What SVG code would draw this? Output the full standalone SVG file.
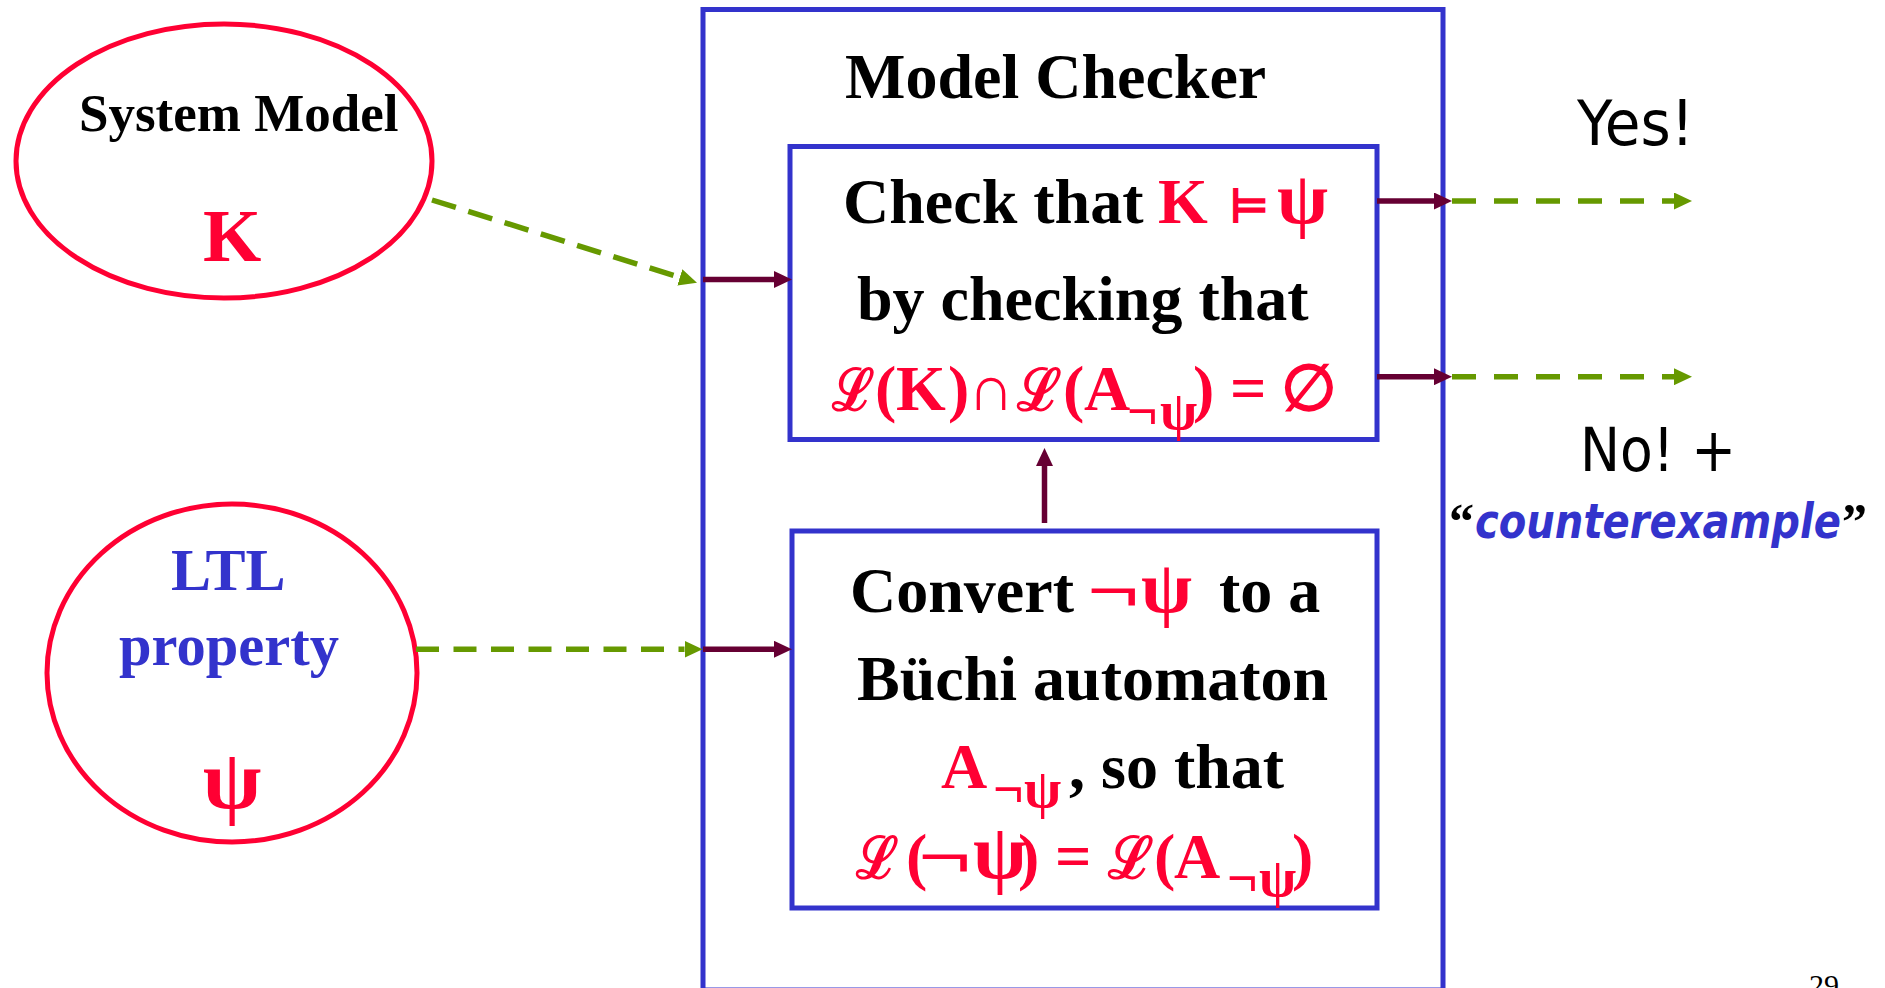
<svg xmlns="http://www.w3.org/2000/svg" width="1885" height="988" viewBox="0 0 1885 988">
<style>
.serif{font-family:"Liberation Serif","DejaVu Serif",serif;font-weight:bold}
.sym{font-family:"Liberation Serif","DejaVu Serif",serif;font-weight:bold}
.sans{font-family:"DejaVu Sans","Liberation Sans",sans-serif}
.red{fill:#FF0033}
.blue{fill:#3333CC}
.blk{fill:#000000}
.ell{fill:#FFFFFF;stroke:#FF0033;stroke-width:5}
.box{fill:#FFFFFF;stroke:#3333CC;stroke-width:5}
.green{fill:none;stroke:#669900;stroke-width:5.5}
.maroon{fill:none;stroke:#660033;stroke-width:5.5}
</style>
<defs>
<marker id="ag" viewBox="0 0 18 17" refX="0" refY="8.5" markerWidth="18" markerHeight="17" markerUnits="userSpaceOnUse" orient="auto">
<path d="M0,0 L18,8.5 L0,17 Z" fill="#669900"/>
</marker>
<marker id="am" viewBox="0 0 18 17" refX="0" refY="8.5" markerWidth="18" markerHeight="17" markerUnits="userSpaceOnUse" orient="auto">
<path d="M0,0 L18,8.5 L0,17 Z" fill="#660033"/>
</marker>
</defs>
<rect width="1885" height="988" fill="#FFFFFF"/>

<g id="model-checker">
<rect class="box" x="703" y="9.5" width="740" height="980.5"/>
<text class="serif blk" x="845" y="97.5" font-size="64">Model Checker</text>
</g>

<g id="system-model">
<ellipse class="ell" cx="224" cy="161" rx="208" ry="137"/>
<text class="serif blk" x="79" y="131" font-size="53">System Model</text>
<text class="serif red" x="203" y="261" font-size="75">K</text>
</g>

<g id="ltl-property">
<ellipse class="ell" cx="232" cy="673" rx="185" ry="169"/>
<text class="serif blue" x="171" y="590" font-size="60">LTL</text>
<text class="serif blue" x="119" y="665" font-size="58.5">property</text>
<text class="serif red" x="232" y="808" font-size="85" text-anchor="middle">ψ</text>
</g>

<g id="check-box">
<rect class="box" x="790" y="146.5" width="587" height="293"/>
<text class="serif" y="223" font-size="64"><tspan class="blk" x="843">Check that</tspan><tspan class="red" x="1158">K</tspan><tspan class="red" x="1228" font-size="48">⊨</tspan><tspan class="red" x="1277" font-size="74">ψ</tspan></text>
<text class="serif blk" x="857" y="320" font-size="64">by checking that</text>
<text class="sym red" x="832" y="410" font-size="58" textLength="42" lengthAdjust="spacingAndGlyphs">ℒ</text>
<text class="sym red" x="1017" y="410" font-size="58" textLength="44" lengthAdjust="spacingAndGlyphs">ℒ</text>
<text class="serif red" y="410" font-size="64"><tspan x="875">(</tspan><tspan x="896">K</tspan><tspan x="948">)</tspan><tspan x="968">∩</tspan><tspan x="1063">(</tspan><tspan x="1084">A</tspan><tspan x="1127" y="429" font-size="54">¬</tspan><tspan x="1160" y="429" font-size="54">ψ</tspan><tspan x="1193" y="410">)</tspan><tspan x="1230">=</tspan><tspan x="1281">∅</tspan></text>
</g>

<g id="convert-box">
<rect class="box" x="792" y="531" width="585" height="377"/>
<text class="serif blk" x="850" y="612" font-size="64">Convert</text>
<text class="serif red" x="1087" y="612" font-size="64" textLength="53" lengthAdjust="spacingAndGlyphs">¬</text>
<text class="serif red" x="1141" y="612" font-size="74">ψ</text>
<text class="serif blk" x="1219" y="612" font-size="64">to a</text>
<text class="serif blk" x="857" y="700" font-size="64">Büchi automaton</text>
<text class="serif" y="788" font-size="64"><tspan class="red" x="941">A</tspan><tspan class="red" x="993" y="807" font-size="54">¬</tspan><tspan class="red" x="1024" y="807" font-size="54">ψ</tspan><tspan class="blk" x="1069" y="788">, so that</tspan></text>
<text class="sym red" x="856" y="878" font-size="58" textLength="42" lengthAdjust="spacingAndGlyphs">ℒ</text>
<text class="sym red" x="1108" y="878" font-size="58" textLength="45" lengthAdjust="spacingAndGlyphs">ℒ</text>
<text class="serif red" x="918" y="878" font-size="64" textLength="54" lengthAdjust="spacingAndGlyphs">¬</text>
<text class="serif red" y="878" font-size="64"><tspan x="906">(</tspan><tspan x="973" font-size="78">ψ</tspan><tspan x="1018">)</tspan><tspan x="1055">=</tspan><tspan x="1154">(</tspan><tspan x="1174">A</tspan><tspan x="1227" y="896" font-size="54">¬</tspan><tspan x="1259" y="896" font-size="54">ψ</tspan><tspan x="1292" y="878">)</tspan></text>
</g>

<g id="yes-label">
<text class="sans blk" x="1577" y="145" font-size="62" textLength="117" lengthAdjust="spacingAndGlyphs">Yes!</text>
</g>

<g id="no-label">
<text class="sans blk" x="1580" y="471" font-size="61" textLength="156" lengthAdjust="spacingAndGlyphs">No! +</text>
<text class="serif blk" x="1449" y="538" font-size="50">“</text>
<text class="sans blue" x="1475" y="538" font-size="48" font-weight="bold" font-style="italic" textLength="366" lengthAdjust="spacingAndGlyphs">counterexample</text>
<text class="serif blk" x="1842" y="538" font-size="50">”</text>
</g>

<g id="page-number">
<text font-family="Liberation Serif, serif" x="1809" y="995" font-size="30" fill="#000000">29</text>
</g>

<g id="connectors">
<path class="green" d="M432,200 L679.8,277.4" stroke-dasharray="25 13" marker-end="url(#ag)"/>
<path class="green" d="M416,649.3 L684.5,649.3" stroke-dasharray="23 14.5" marker-end="url(#ag)"/>
<path class="green" d="M1452,201 L1674,201" stroke-dasharray="24 18" marker-end="url(#ag)"/>
<path class="green" d="M1452,376.7 L1674,376.7" stroke-dasharray="24 18" marker-end="url(#ag)"/>
<path class="maroon" d="M703,279.5 L774,279.5" marker-end="url(#am)"/>
<path class="maroon" d="M703,649.3 L774,649.3" marker-end="url(#am)"/>
<path class="maroon" d="M1377,201 L1434,201" marker-end="url(#am)"/>
<path class="maroon" d="M1377,376.7 L1434,376.7" marker-end="url(#am)"/>
<path class="maroon" d="M1044.5,523 L1044.5,466" marker-end="url(#am)"/>
</g>
</svg>
